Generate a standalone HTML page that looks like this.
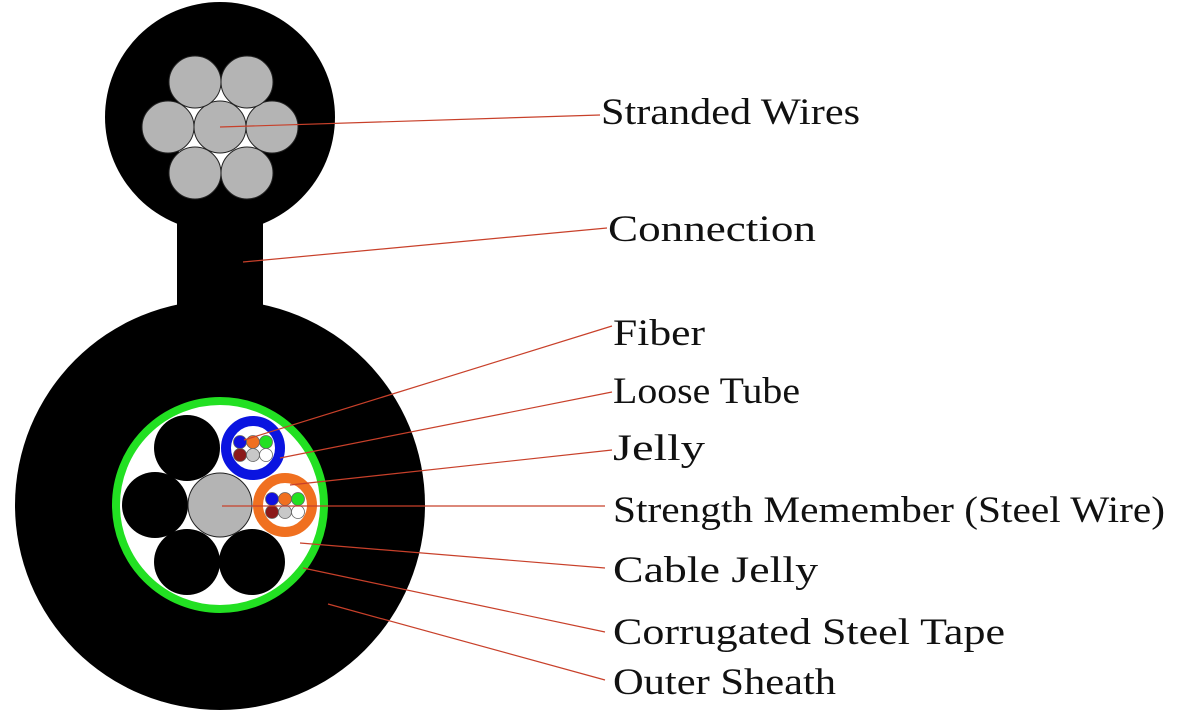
<!DOCTYPE html>
<html><head><meta charset="utf-8"><style>
html,body{margin:0;padding:0;background:#fff;width:1183px;height:720px;overflow:hidden}
</style></head><body>
<svg width="1183" height="720" viewBox="0 0 1183 720" xmlns="http://www.w3.org/2000/svg">
<rect width="1183" height="720" fill="#fff"/>
<circle cx="220" cy="117" r="115" fill="#000"/>
<rect x="177" y="200" width="86" height="120" fill="#000"/>
<g fill="#fff"><circle cx="220" cy="127" r="48"/></g>
<g fill="#b4b4b4" stroke="#222" stroke-width="1">
<circle cx="220" cy="127" r="26"/>
<circle cx="168" cy="127" r="26"/>
<circle cx="272" cy="127" r="26"/>
<circle cx="195" cy="82" r="26"/>
<circle cx="247" cy="82" r="26"/>
<circle cx="195" cy="173" r="26"/>
<circle cx="247" cy="173" r="26"/>
</g>
<circle cx="220" cy="505" r="205" fill="#000"/>
<circle cx="220" cy="505" r="104" fill="#fff" stroke="#22e022" stroke-width="8"/>
<g fill="#000">
<circle cx="187" cy="448" r="33"/>
<circle cx="155" cy="505" r="33"/>
<circle cx="187" cy="562" r="33"/>
<circle cx="252" cy="562" r="33"/>
</g>
<circle cx="220" cy="505" r="32" fill="#b4b4b4" stroke="#222" stroke-width="1"/>
<circle cx="253" cy="448" r="27" fill="#fff" stroke="#0a14e0" stroke-width="10"/>
<circle cx="285" cy="505" r="27" fill="#fff" stroke="#f07020" stroke-width="10"/>
<g stroke="#666" stroke-width="0.8">
<circle cx="240" cy="442" r="6.5" fill="#1010e0"/>
<circle cx="253" cy="442" r="6.5" fill="#f07020"/>
<circle cx="266" cy="442" r="6.5" fill="#22e022"/>
<circle cx="240" cy="455" r="6.5" fill="#8b1a1a"/>
<circle cx="253" cy="455" r="6.5" fill="#c8c8c8"/>
<circle cx="266" cy="455" r="6.5" fill="#fff"/>
<circle cx="272" cy="499" r="6.5" fill="#1010e0"/>
<circle cx="285" cy="499" r="6.5" fill="#f07020"/>
<circle cx="298" cy="499" r="6.5" fill="#22e022"/>
<circle cx="272" cy="512" r="6.5" fill="#8b1a1a"/>
<circle cx="285" cy="512" r="6.5" fill="#c8c8c8"/>
<circle cx="298" cy="512" r="6.5" fill="#fff"/>
</g>
<g stroke="#c8402a" stroke-width="1.2" fill="none">
<line x1="220" y1="127" x2="600" y2="115"/>
<line x1="243" y1="262" x2="607" y2="228"/>
<line x1="244" y1="440" x2="612" y2="326"/>
<line x1="280" y1="458" x2="612" y2="392"/>
<line x1="290" y1="485" x2="612" y2="450"/>
<line x1="222" y1="506" x2="605" y2="506"/>
<line x1="300" y1="543" x2="605" y2="568"/>
<line x1="303" y1="568" x2="605" y2="632"/>
<line x1="328" y1="604" x2="605" y2="680"/>
</g>
<g font-family="'Liberation Serif', serif" font-size="37" fill="#111">
<text x="601" y="124" textLength="259" lengthAdjust="spacingAndGlyphs">Stranded Wires</text>
<text x="608" y="241" textLength="208" lengthAdjust="spacingAndGlyphs">Connection</text>
<text x="613" y="345" textLength="92" lengthAdjust="spacingAndGlyphs">Fiber</text>
<text x="613" y="403" textLength="187" lengthAdjust="spacingAndGlyphs">Loose Tube</text>
<text x="613" y="460" textLength="92" lengthAdjust="spacingAndGlyphs">Jelly</text>
<text x="613" y="522" textLength="552" lengthAdjust="spacingAndGlyphs">Strength Memember (Steel Wire)</text>
<text x="613" y="582" textLength="205" lengthAdjust="spacingAndGlyphs">Cable Jelly</text>
<text x="613" y="644" textLength="392" lengthAdjust="spacingAndGlyphs">Corrugated Steel Tape</text>
<text x="613" y="694" textLength="223" lengthAdjust="spacingAndGlyphs">Outer Sheath</text>
</g>
</svg>
</body></html>
